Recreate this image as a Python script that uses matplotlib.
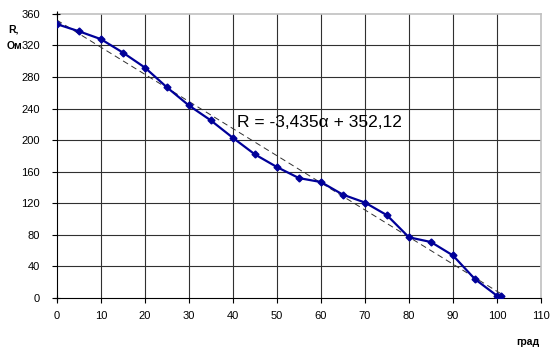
import numpy as np
import matplotlib.pyplot as plt

plt.rcParams['font.family'] = ['Liberation Sans', 'DejaVu Sans']

alpha = [0, 5, 10, 15, 20, 25, 30, 35, 40, 45, 50, 55, 60, 65, 70, 75, 80, 85, 90, 95, 100, 101]
R = [347, 338, 328, 311, 292, 267, 244, 225, 203, 182, 166, 152, 147, 131, 121, 105, 77, 71, 54, 24, 3, 3]
k, b = -3.435, 352.12
xticks = list(range(0, 111, 10))
yticks = list(range(0, 361, 40))

fig = plt.figure(figsize=(5.52, 3.47), dpi=100)
ax = fig.add_axes([0.103, 0.141, 0.877, 0.819])

for t in xticks[1:-1]:
    ax.axvline(t, color='#303030', lw=0.8, zorder=1)
for t in yticks[1:-1]:
    ax.axhline(t, color='#303030', lw=0.8, zorder=1)

xt = np.array([0, 101])
ax.plot(xt, k * xt + b, color='#303030', lw=0.7, dashes=(6, 4), zorder=2)
ax.plot(alpha, R, color='#000099', lw=1.6, marker='D', ms=3.5, zorder=3)
ax.plot([0, 0], [0, 360], ls='none', marker='+', color='black', ms=5, mew=0.8, zorder=4, clip_on=False)

ax.text(41, 222, 'R = -3,435α + 352,12', fontsize=12.5, va='center', ha='left')

ax.set_xlim(0, 110)
ax.set_ylim(0, 360)
ax.set_xticks(xticks)
ax.set_yticks(yticks)
ax.tick_params(labelsize=8, length=3.5, width=0.8, colors='black')
ax.tick_params(axis='x', pad=6)
ax.tick_params(axis='y', pad=8.5)
for s in ['top', 'right']:
    ax.spines[s].set_color('#c0c0c0')
    ax.spines[s].set_linewidth(1.2)
ax.spines['left'].set_linewidth(0.8)
ax.spines['bottom'].set_linewidth(0.8)

fig.text(0.025, 0.916, 'R,', fontsize=7.5, fontweight='bold', ha='center', va='center')
fig.text(0.027, 0.867, 'Ом', fontsize=7.5, fontweight='bold', ha='center', va='center')
fig.text(0.957, 0.014, 'град', fontsize=7.5, fontweight='bold', ha='center', va='center')

fig.savefig('out.png', dpi=100)
